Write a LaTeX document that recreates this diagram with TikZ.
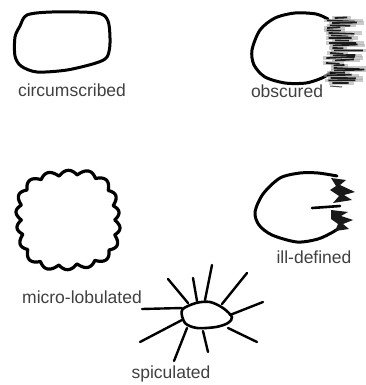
\documentclass[tikz,border=0pt]{standalone}
\usepackage{fontspec}
\setmainfont{Liberation Sans}
\usepackage{tikz}

\tikzset{
  outline/.style={line width=3pt, line join=round, line cap=round},
  spicule/.style={line width=2.4pt, line cap=round},
  lbl/.style={font=\fontsize{17.5}{20}\selectfont, text=black!75, inner sep=0pt, anchor=base}
}

\begin{document}
\begin{tikzpicture}[x=1pt, y=-1pt]
\useasboundingbox (0,0) rectangle (366,385);
% Circumscribed margin
\draw[outline] plot[smooth cycle] coordinates {(27,15) (52,12) (97,13) (108,21) (110,43) (107,57) (96,63) (67,70) (37,72) (21,66) (15,56) (15,37) (20,26)};
\node[lbl] (circ) at (72,96) {circumscribed};
% Obscured margin: open on the right, covered by strokes
\draw[outline] plot[smooth] coordinates {(328,19) (316,14) (295,13) (275,18) (260,30) (252,50) (254,65) (265,77) (285,83) (306,83) (322,78) (332,72)};
\pgfmathsetseed{7}              % fixed seed, same strokes every run
\foreach \i in {0,...,26}{
  \pgfmathsetmacro{\ys}{18+\i*2.5}
  \pgfmathsetmacro{\xs}{323+rnd*10}
  \pgfmathsetmacro{\len}{12+rnd*26}
  \draw[black!35, line width=3.2pt, opacity=.6] (\xs,\ys) -- ++(\len+4,0);   % soft halo
  \draw[black, line width=1.8pt, opacity=.85] (\xs+3,\ys) -- ++(\len*.8,rand*1.2); % dark core
}
\draw[black!70, line width=1pt] (330,86) -- (342,87);
\node[lbl] (obsc) at (287,98) {obscured};
% Micro-lobulated margin: rounded base radius plus uneven lobes
\draw[outline, line width=3.2pt] plot[domain=0:360, samples=541] ({68+(49+2.5*cos(4*\x-160)+5*abs(sin(9*\x+25*sin(2*\x))))*cos(\x)}, {220+(47+2.5*cos(4*\x-160)+5*abs(sin(9*\x+25*sin(2*\x))))*sin(\x)});
\node[lbl] (lobu) at (82,303) {micro-lobulated};
% Ill-defined margin: outline plus ragged right side
\draw[outline] plot[smooth] coordinates {(337,176) (318,173) (300,173) (280,178) (263,194) (255,212) (259,225) (272,235) (297,242) (318,239) (333,232) (342,226)};
\fill[black!90] (331,178) -- (346,180) -- (340,185) -- (355,192) -- (344,195) -- (352,200) -- (333,203) -- (339,196) -- (330,190) -- (336,186) -- cycle;
\fill[black!90] (331,210) -- (348,212) -- (341,216) -- (353,220) -- (343,224) -- (349,229) -- (335,231) -- (338,224) -- (331,219) -- cycle;
\draw[outline, line width=2.6pt] (312,208) -- (340,206);
\node[lbl] (illd) at (314,263) {ill-defined};
% Spiculated margin: small body with radiating spicules
\draw[outline, line width=2.6pt] plot[smooth cycle] coordinates {(182,310) (196,303) (210,302) (223,308) (232,317) (228,323) (216,327) (197,328) (185,323)};
\foreach \xa/\ya/\xb/\yb in {142/309/182/308, 140/342/182/320, 168/279/188/303, 193/278/197/301, 212/265/205/300, 247/273/222/304, 263/302/230/315, 228/328/257/342, 203/331/208/352, 187/328/174/361}{
  \draw[spicule] (\xa,\ya) -- (\xb,\yb);
}
\node[lbl] (spic) at (171,378) {spiculated};
\end{tikzpicture}
\end{document}
